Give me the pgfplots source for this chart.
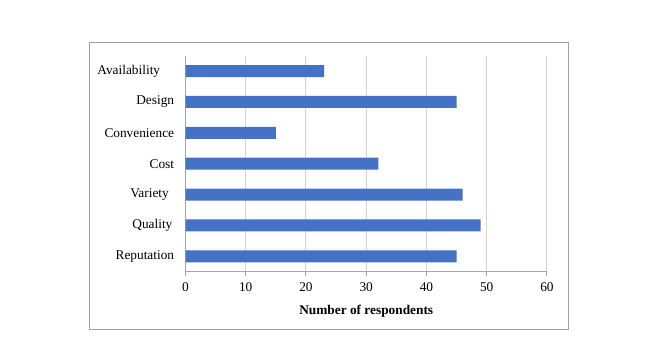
\documentclass[border=0pt]{standalone}
\usepackage{pgfplots}
\pgfplotsset{compat=1.18}
\usepackage{fontspec}
\setmainfont{Liberation Serif}
\definecolor{barblue}{HTML}{4472C4}
\definecolor{gridgray}{HTML}{D4D4D4}
\definecolor{axisgray}{HTML}{A6A6A6}
\definecolor{framegray}{HTML}{A0A0A0}
\begin{document}
\begin{tikzpicture}[x=0.75pt,y=0.75pt]
\path[use as bounding box] (0,0) rectangle (667,353);
\draw[color=framegray, line width=0.75pt] (89.3,310.7) rectangle (568.3,23.7);
\coordinate (A) at (185.5,81.3);
\begin{axis}[
  at={(A)}, anchor=south west,
  scale only axis, width=271.1pt, height=162pt,
  xmin=0, xmax=60, ymin=-0.5, ymax=6.5,
  xbar, bar width=9pt,
  xtick={0,10,...,60},
  ytick={0,...,6},
  yticklabels={Reputation,Quality\hspace*{1.3pt},Variety\hspace*{4pt},Cost,Convenience,Design,Availability\hspace*{10.5pt}},
  xmajorgrids, grid style={gridgray, line width=0.75pt},
  axis lines=left,
  x axis line style={-, axisgray, line width=0.75pt},
  y axis line style={-, axisgray, line width=0.75pt},
  ytick style={draw=none},
  xtick style={axisgray, line width=0.75pt},
  tick align=outside, major tick length=3pt,
  tick label style={font=\fontsize{10}{12}\selectfont},
  yticklabel style={xshift=-2pt},
  xticklabel style={yshift=-2pt},
  /pgf/number format/assume math mode=true,
  xlabel={\textbf{Number of respondents}},
  xlabel style={font=\fontsize{10}{12}\selectfont, yshift=-3pt},
]
\addplot[fill=barblue, draw=none] coordinates {(45,0) (49,1) (46,2) (32,3) (15,4) (45,5) (23,6)};
\end{axis}
\end{tikzpicture}
\end{document}
